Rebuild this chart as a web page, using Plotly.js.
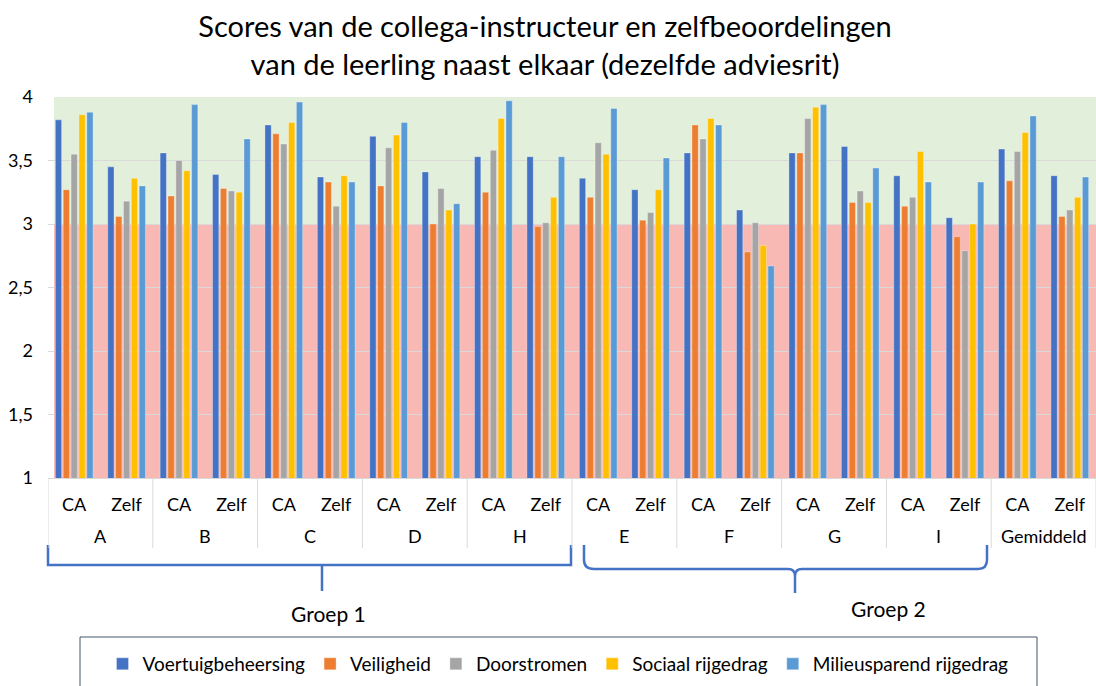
<!DOCTYPE html>
<html>
<head>
<meta charset="utf-8">
<script src="https://cdn.plot.ly/plotly-3.0.1.min.js"></script>
<style>
  html, body { margin: 0; padding: 0; background: #fff; }
  #chart { width: 1096px; height: 686px; }
</style>
</head>
<body>
<div id="chart"></div>
<script>
// ---- Data ----
const groups = ["A", "A", "B", "B", "C", "C", "D", "D", "H", "H", "E", "E", "F", "F", "G", "G", "I", "I", "Gemiddeld", "Gemiddeld"];
const raters = ["CA", "Zelf", "CA", "Zelf", "CA", "Zelf", "CA", "Zelf", "CA", "Zelf", "CA", "Zelf", "CA", "Zelf", "CA", "Zelf", "CA", "Zelf", "CA", "Zelf"];

const seriesNames = ["Voertuigbeheersing", "Veiligheid", "Doorstromen", "Sociaal rijgedrag", "Milieusparend rijgedrag"];
const voertuigbeheersing = [3.82, 3.45, 3.56, 3.39, 3.78, 3.37, 3.69, 3.41, 3.53, 3.53, 3.36, 3.27, 3.56, 3.11, 3.56, 3.61, 3.38, 3.05, 3.59, 3.38];
const veiligheid         = [3.27, 3.06, 3.22, 3.28, 3.71, 3.33, 3.30, 3.00, 3.25, 2.98, 3.21, 3.03, 3.78, 2.78, 3.56, 3.17, 3.14, 2.90, 3.34, 3.06];
const doorstromen        = [3.55, 3.18, 3.50, 3.26, 3.63, 3.14, 3.60, 3.28, 3.58, 3.01, 3.64, 3.09, 3.67, 3.01, 3.83, 3.26, 3.21, 2.79, 3.57, 3.11];
const sociaalRijgedrag   = [3.86, 3.36, 3.42, 3.25, 3.80, 3.38, 3.70, 3.11, 3.83, 3.21, 3.55, 3.27, 3.83, 2.83, 3.92, 3.17, 3.57, 3.00, 3.72, 3.21];
const milieusparend      = [3.88, 3.30, 3.94, 3.67, 3.96, 3.33, 3.80, 3.16, 3.97, 3.53, 3.91, 3.52, 3.78, 2.67, 3.94, 3.44, 3.33, 3.33, 3.85, 3.37];

const groupLabels = ["Groep 1", "Groep 2"];
const yTicks = [1, 1.5, 2, 2.5, 3, 3.5, 4];

// ---- Styling ----
const colors = ["#4472C4", "#ED7D31", "#A5A5A5", "#FFC000", "#5B9BD5"];
const FONT = "Lato, 'Open Sans', sans-serif";
const W = 1096, H = 686;
const M = { l: 48, r: 0, t: 97, b: 208 };
const PW = W - M.l - M.r, PH = H - M.t - M.b;
// pixel -> paper helpers for decorations
const px = x => (x - M.l) / PW;
const py = y => (H - M.b - y) / PH;

// category positions on the x axis (index of each CA/Zelf column)
const xPos = raters.map((_, i) => i);

const values = [voertuigbeheersing, veiligheid, doorstromen, sociaalRijgedrag, milieusparend];
const traces = values.map((v, i) => ({
  type: "bar",
  name: seriesNames[i],
  x: xPos,
  y: v,
  customdata: groups.map((g, k) => g + " " + raters[k]),
  hovertemplate: "%{customdata}: %{y}<extra>" + seriesNames[i] + "</extra>",
  marker: { color: colors[i], line: { color: "rgba(255,255,255,0.55)", width: 0.6 } }
}));

// outer group labels and dividers, derived from the groups array
const outer = [];
groups.forEach((g, i) => {
  if (i === 0 || groups[i - 1] !== g) outer.push({ name: g, start: i, end: i });
  else outer[outer.length - 1].end = i;
});

const bracketColor = "#4472C4";
function P(x, y) { return px(x).toFixed(5) + "," + py(y).toFixed(5); }

const shapes = [
  // background bands
  { type: "rect", xref: "paper", yref: "y", x0: px(54), x1: 1, y0: 3, y1: 4, fillcolor: "#E2EFDA", line: { width: 0 }, layer: "below" },
  { type: "rect", xref: "paper", yref: "y", x0: px(54), x1: 1, y0: 1, y1: 3, fillcolor: "#F8B8B4", line: { width: 0 }, layer: "below" },
  // Groep 1 bracket
  { type: "path", xref: "paper", yref: "paper",
    path: "M" + P(48, 545) + " L" + P(48, 565) + " L" + P(571, 565) + " L" + P(571, 545) + " M" + P(322, 565) + " L" + P(322, 591),
    line: { color: bracketColor, width: 2.5 } },
  // Groep 2 curly bracket
  { type: "path", xref: "paper", yref: "paper",
    path: "M" + P(584, 545) + " L" + P(584, 560) + " Q" + P(584, 569) + " " + P(594, 569) +
          " L" + P(788, 569) + " Q" + P(795, 569) + " " + P(795, 576) + " L" + P(795, 593) +
          " M" + P(795, 576) + " Q" + P(795, 569) + " " + P(802, 569) +
          " L" + P(978, 569) + " Q" + P(987, 569) + " " + P(987, 560) + " L" + P(987, 545),
    line: { color: bracketColor, width: 2.5 } },
  // legend box
  { type: "rect", xref: "paper", yref: "paper", x0: px(80), x1: px(1037), y0: py(637), y1: py(700),
    line: { color: "#44546A", width: 1 }, fillcolor: "rgba(0,0,0,0)" }
];
// dividers between groups (category-table lines)
outer.forEach((o, k) => {
  shapes.push({ type: "line", xref: "x", yref: "paper", x0: o.start - 0.5, x1: o.start - 0.5, y0: 0, y1: py(548),
    line: { color: "#D9D9D9", width: 1 } });
});
shapes.push({ type: "line", xref: "x", yref: "paper", x0: groups.length - 0.5, x1: groups.length - 0.5, y0: 0, y1: py(548),
  line: { color: "#D9D9D9", width: 1 } });

const annotations = [
  { xref: "paper", yref: "paper", x: px(328), y: py(613), text: groupLabels[0], showarrow: false,
    font: { family: FONT, size: 21, color: "#000" }, xanchor: "center", yanchor: "middle" },
  { xref: "paper", yref: "paper", x: px(888), y: py(608), text: groupLabels[1], showarrow: false,
    font: { family: FONT, size: 21, color: "#000" }, xanchor: "center", yanchor: "middle" }
];
outer.forEach(o => {
  annotations.push({ xref: "x", yref: "paper", x: (o.start + o.end) / 2, y: py(536), text: o.name, showarrow: false,
    font: { family: FONT, size: 18, color: "#000" }, xanchor: "center", yanchor: "middle" });
});

const layout = {
  width: W, height: H,
  margin: M,
  paper_bgcolor: "#fff",
  plot_bgcolor: "#fff",
  separators: ",.",
  title: {
    text: "Scores van de collega-instructeur en zelfbeoordelingen<br>van de leerling naast elkaar (dezelfde adviesrit)",
    font: { family: FONT, size: 29, color: "#000" },
    x: px(545), xref: "paper", xanchor: "center",
    y: 1 - 37 / H, yref: "container", yanchor: "middle"
  },
  barmode: "group",
  bargap: 0.25,
  bargroupgap: 0.2,
  xaxis: {
    type: "linear",
    range: [-0.5, groups.length - 0.5],
    tickvals: xPos,
    ticktext: raters,
    tickfont: { family: FONT, size: 18, color: "#000" },
    showline: true, linecolor: "#D9D9D9", linewidth: 1,
    ticks: "", showgrid: false, zeroline: false,
    ticklabelstandoff: 10
  },
  yaxis: {
    range: [1, 4],
    tickvals: yTicks,
    ticktext: yTicks.map(v => String(v).replace(".", ",")),
    tickfont: { family: FONT, size: 18, color: "#000" },
    gridcolor: "#D9D9D9", gridwidth: 1,
    showline: false, zeroline: false, ticks: "",
    ticklabelstandoff: 14
  },
  legend: {
    orientation: "h",
    x: px(558), xanchor: "center",
    y: py(645), yanchor: "top",
    font: { family: FONT, size: 19, color: "#000" },
    bgcolor: "rgba(0,0,0,0)",
    itemclick: false, itemdoubleclick: false,
    traceorder: "normal"
  },
  shapes: shapes,
  annotations: annotations,
  showlegend: true
};

Plotly.newPlot("chart", traces, layout, { displayModeBar: false, staticPlot: true });
</script>
</body>
</html>
